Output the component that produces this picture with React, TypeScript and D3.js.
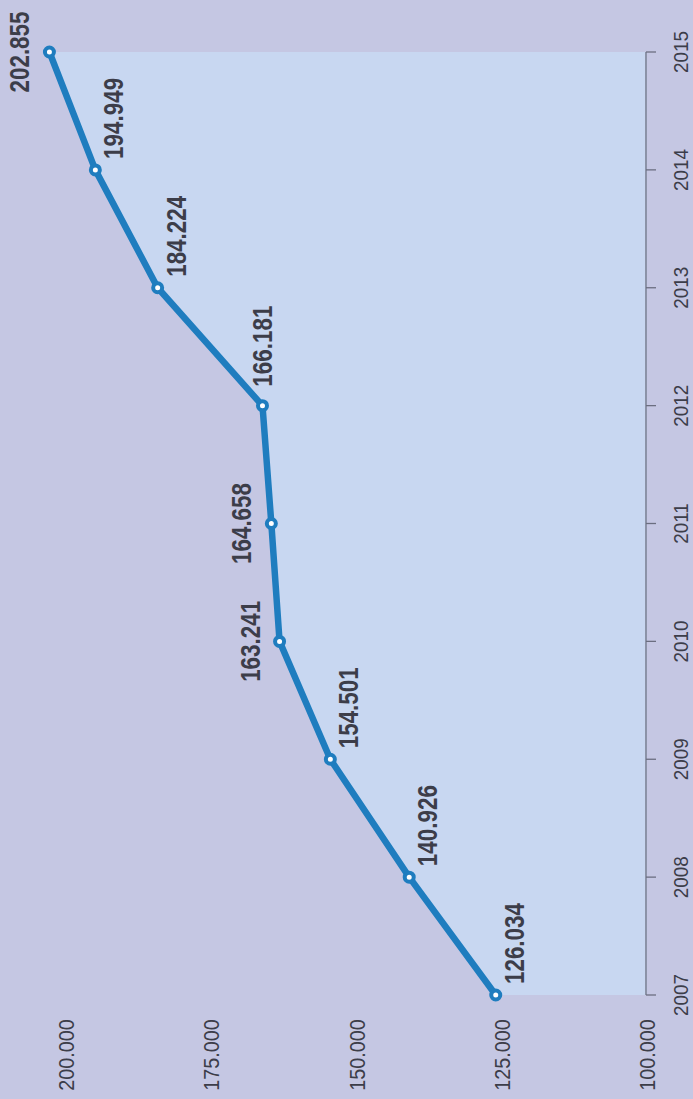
import React from "react";
import * as d3 from "d3";

const years: number[] = [2007, 2008, 2009, 2010, 2011, 2012, 2013, 2014, 2015];
const values: number[] = [126034, 140926, 154501, 163241, 164658, 166181, 184224, 194949, 202855];
const valueTicks: number[] = [100000, 125000, 150000, 175000, 200000];
const labelSide: string[] = ["after", "after", "after", "before", "before", "above", "after", "after", "before"];

const W = 693;
const H = 1099;

const locale = d3.formatLocale({ decimal: ",", thousands: ".", grouping: [3], currency: ["", ""] });
const fmt = locale.format(",");

export default function App() {
  const yS = d3.scaleLinear().domain([2007, 2015]).range([995, 52]);
  const xS = d3.scaleLinear().domain([100000, 200000]).range([647, 66]);

  const data = years.map((y, i) => ({ year: y, value: values[i], side: labelSide[i] }));

  const area = d3
    .area<any>()
    .y((d) => yS(d.year))
    .x0(xS(100000))
    .x1((d) => xS(d.value));
  const line = d3
    .line<any>()
    .x((d) => xS(d.value))
    .y((d) => yS(d.year));

  const font = "'Liberation Sans', Arial, Helvetica, sans-serif";
  const axisX = xS(100000) - 1;
  const textCol = "#3c3d49";

  return (
    <svg
      width={W}
      height={H}
      style={{ position: "absolute", left: 0, top: 0, display: "block" }}
    >
      <rect x={0} y={0} width={W} height={H} fill="#c5c7e3" />
      <path d={area(data) || ""} fill="#c8d7f1" />
      {/* year axis */}
      <line x1={axisX} x2={axisX} y1={yS(2015)} y2={yS(2007)} stroke="#6b6e80" strokeWidth={1.3} />
      {years.map((y) => (
        <g key={y}>
          <line x1={axisX} x2={axisX + 10} y1={yS(y)} y2={yS(y)} stroke="#6b6e80" strokeWidth={1.3} />
          <text
            transform={`translate(${688},${yS(y)}) rotate(-90) scale(0.9,1)`}
            textAnchor="middle"
            fontFamily={font}
            fontSize={21}
            fill={textCol}
          >
            {y}
          </text>
        </g>
      ))}
      {/* value labels */}
      {valueTicks.map((v) => (
        <text
          key={v}
          transform={`translate(${xS(v) + 8},1055) rotate(-90) scale(0.9,1)`}
          textAnchor="middle"
          fontFamily={font}
          fontSize={22}
          fill={textCol}
        >
          {fmt(v)}
        </text>
      ))}
      <path d={line(data) || ""} fill="none" stroke="#1f7dbf" strokeWidth={6.5} strokeLinejoin="round" />
      {data.map((d) => (
        <circle key={d.year} cx={xS(d.value)} cy={yS(d.year)} r={4.5} fill="#ffffff" stroke="#1f7dbf" strokeWidth={4} />
      ))}
      {data.map((d) => {
        const px = xS(d.value);
        const py = yS(d.year);
        let tx = px + 28;
        let ty = py - 11;
        let anchor = "start";
        if (d.side === "before") {
          tx = px - 20;
          ty = py;
          anchor = "middle";
        } else if (d.side === "above") {
          tx = px + 10;
          ty = py - 19;
        }
        return (
          <text
            key={"l" + d.year}
            transform={`translate(${tx},${ty}) rotate(-90) scale(0.83,1)`}
            textAnchor={anchor}
            fontFamily={font}
            fontWeight="bold"
            fontSize={27}
            fill={textCol}
          >
            {fmt(d.value)}
          </text>
        );
      })}
    </svg>
  );
}
